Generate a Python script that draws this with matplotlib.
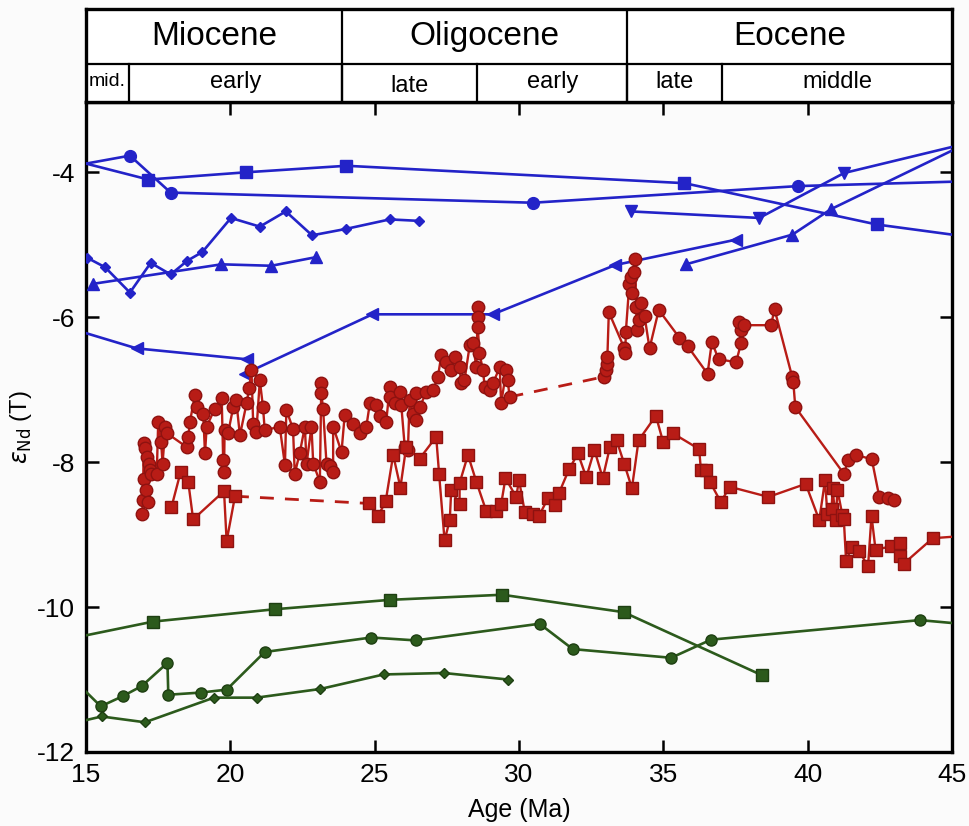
import matplotlib.pyplot as plt
import numpy as np

# --- datos: edad (Ma) y eNd(T) ---

# azul
az_circ_edad = [15.0, 16.52, 17.93, 30.48, 39.68, 45.0]
az_circ_end = [-3.88, -3.77, -4.28, -4.42, -4.19, -4.13]

az_cuad_edad = [15.0, 17.16, 20.54, 24.02, 35.73, 42.39, 45.0]
az_cuad_end = [-3.88, -4.10, -4.00, -3.91, -4.15, -4.72, -4.86]

az_diam_edad = [15.04, 15.66, 16.52, 17.24, 17.93, 18.51, 19.03, 20.02, 21.02, 21.92, 22.83, 24.02, 25.52, 26.52]
az_diam_end = [-5.18, -5.31, -5.66, -5.25, -5.41, -5.22, -5.10, -4.63, -4.75, -4.54, -4.87, -4.78, -4.65, -4.67]

az_tri_edad = [15.23, 19.69, 21.42, 22.98]
az_tri_end = [-5.54, -5.27, -5.29, -5.17]

az_izq1_edad = [15.0, 16.75, 20.56]
az_izq1_end = [-6.22, -6.43, -6.58]

az_izq2_edad = [20.5, 24.92, 29.09, 33.33, 37.51]
az_izq2_end = [-6.78, -5.96, -5.96, -5.28, -4.93]

az_abajo_edad = [33.88, 38.32, 41.26, 45.0]
az_abajo_end = [-4.54, -4.63, -4.01, -3.65]

az_arriba_edad = [35.78, 39.47, 40.80, 45.0]
az_arriba_end = [-5.27, -4.86, -4.51, -3.70]

# rojo, circulos (dos tramos unidos por linea cortada)
rc1_edad = [16.95, 16.97, 17.0, 17.02, 17.05, 17.08, 17.1, 17.13, 17.17, 17.2, 17.25,
            17.45, 17.5, 17.6, 17.65, 17.75, 17.8, 18.48, 18.54, 18.6, 18.77, 18.83,
            19.06, 19.12, 19.18, 19.46, 19.7, 19.75, 19.78, 19.8, 19.92, 20.1, 20.2,
            20.33, 20.56, 20.65, 20.73, 20.79, 20.9, 21.02, 21.13, 21.19, 21.71, 21.89,
            21.94, 22.17, 22.23, 22.40, 22.58, 22.64, 22.81, 22.87, 23.10, 23.15, 23.15,
            23.21, 23.33, 23.44, 23.56, 23.56, 23.85, 23.96, 24.25, 24.48, 24.71, 24.83,
            25.06, 25.17, 25.40, 25.52, 25.52, 25.69, 25.86, 25.92, 26.04, 26.15, 26.21,
            26.33, 26.44, 26.44, 26.56, 26.79, 27.02, 27.19, 27.31, 27.48, 27.65, 27.77,
            27.94, 28.00, 28.11, 28.29, 28.40, 28.52, 28.57, 28.57, 28.57, 28.63, 28.75,
            28.81, 28.98, 29.10, 29.33, 29.38, 29.56, 29.61, 29.67]
rc1_end = [-8.71, -8.52, -7.74, -8.23, -7.81, -8.39, -7.93, -8.55, -8.02, -8.11, -8.16,
           -8.16, -7.44, -7.72, -8.02, -7.51, -7.60, -7.79, -7.65, -7.44, -7.08, -7.24,
           -7.33, -7.88, -7.51, -7.26, -7.12, -7.97, -8.13, -7.56, -7.60, -7.24, -7.14,
           -7.63, -7.19, -6.98, -6.73, -7.47, -7.58, -6.87, -7.24, -7.56, -7.51, -8.04,
           -7.28, -7.54, -8.16, -7.88, -7.51, -8.02, -7.51, -8.02, -8.27, -6.91, -7.05,
           -7.26, -8.02, -8.06, -8.13, -7.51, -7.86, -7.35, -7.47, -7.60, -7.51, -7.19,
           -7.21, -7.37, -7.44, -6.96, -7.10, -7.19, -7.03, -7.21, -7.79, -7.83, -7.14,
           -7.33, -7.05, -7.42, -7.24, -7.03, -7.01, -6.82, -6.52, -6.62, -6.73, -6.55,
           -6.69, -6.91, -6.87, -6.39, -6.36, -6.69, -5.86, -6.00, -6.13, -6.50, -6.73,
           -6.96, -7.01, -6.91, -6.69, -7.19, -6.73, -6.87, -7.10]

rc2_edad = [32.96, 33.0, 33.03, 33.06, 33.11, 33.65, 33.68, 33.70, 33.82, 33.87, 33.92,
            33.97, 34.03, 34.05, 34.10, 34.15, 34.23, 34.35, 34.52, 34.84, 35.55, 35.84,
            36.53, 36.68, 36.91, 37.52, 37.69, 37.69, 37.63, 37.80, 38.73, 38.85, 39.46,
            39.50, 39.57, 41.27, 41.38, 41.67, 42.22, 42.48, 42.77, 43.0]
rc2_end = [-6.82, -6.73, -6.64, -6.55, -5.93, -6.43, -6.50, -6.20, -5.54, -5.44, -5.67,
           -5.37, -5.20, -5.86, -6.18, -6.04, -5.81, -5.99, -6.43, -5.90, -6.28, -6.40,
           -6.78, -6.34, -6.58, -6.62, -6.36, -6.18, -6.06, -6.11, -6.11, -5.89, -6.82,
           -6.89, -7.24, -8.17, -7.97, -7.90, -7.96, -8.48, -8.50, -8.52]

# rojo, cuadrados
rq1_edad = [17.96, 18.28, 18.54, 18.71, 19.78, 19.87, 20.16]
rq1_end = [-8.62, -8.13, -8.27, -8.79, -8.40, -9.09, -8.47]

rq2_edad = [24.80, 25.11, 25.38, 25.64, 25.89, 26.09, 26.56, 27.13, 27.23, 27.42, 27.60,
            27.65, 27.94, 27.94, 28.23, 28.52, 28.86, 29.21, 29.38, 29.53, 29.90, 30.0,
            30.2, 30.48, 30.68, 31.0, 31.23, 31.38, 31.73, 32.04, 32.33, 32.61, 32.90,
            33.15, 33.38, 33.65, 33.91, 34.14, 34.74, 34.99, 35.32, 36.24, 36.30, 36.49,
            36.61, 36.99, 37.30, 38.64, 39.93, 40.40, 40.60, 40.68, 40.83, 40.86, 40.97,
            41.03, 41.20, 41.25, 41.33, 41.52, 41.79, 42.09, 42.21, 42.35, 42.90, 43.18,
            43.21, 43.33, 44.33, 45.0]
rq2_end = [-8.57, -8.75, -8.54, -7.90, -8.35, -7.79, -7.95, -7.65, -8.16, -9.08, -8.80,
           -8.39, -8.58, -8.29, -7.90, -8.27, -8.67, -8.67, -8.58, -8.22, -8.48, -8.25,
           -8.69, -8.71, -8.75, -8.50, -8.59, -8.43, -8.10, -7.88, -8.21, -7.83, -8.22,
           -7.79, -7.70, -8.03, -8.36, -7.70, -7.36, -7.72, -7.60, -7.82, -8.11, -8.11,
           -8.27, -8.55, -8.34, -8.48, -8.30, -8.80, -8.25, -8.71, -8.64, -8.36, -8.80,
           -8.38, -8.73, -8.78, -9.37, -9.17, -9.23, -9.44, -8.74, -9.21, -9.16, -9.11,
           -9.30, -9.40, -9.05, -9.03]

# verde
vq_edad = [15.0, 17.33, 21.54, 25.54, 29.42, 33.62, 38.41]
vq_end = [-10.39, -10.20, -10.03, -9.90, -9.83, -10.07, -10.94]

vc_edad = [15.0, 15.51, 16.27, 16.93, 17.82, 17.85, 18.97, 19.87, 21.19, 24.88, 26.42,
           30.71, 31.86, 35.27, 36.65, 43.88, 45.0]
vc_end = [-11.17, -11.37, -11.23, -11.09, -10.77, -11.21, -11.18, -11.14, -10.62, -10.42,
          -10.46, -10.23, -10.58, -10.70, -10.45, -10.18, -10.22]

vd_edad = [15.0, 15.54, 17.04, 19.43, 20.91, 23.12, 25.31, 27.40, 29.62]
vd_end = [-11.56, -11.51, -11.59, -11.25, -11.25, -11.13, -10.93, -10.91, -11.00]

# escala de tiempo
epocas = ['Miocene', 'Oligocene', 'Eocene']
epocas_lim = [15, 23.86, 33.75, 45]
subepocas = ['mid.', 'early', 'late', 'early', 'late', 'middle']
subepocas_lim = [15, 16.49, 23.86, 28.56, 33.75, 37.04, 45]

AZUL = '#2323c8'
ROJO = '#b81c16'
ROJO_BORDE = '#8e1210'
VERDE = '#2c5a1c'
VERDE_BORDE = '#1e3f12'

plt.rcParams['font.family'] = ['Liberation Sans', 'DejaVu Sans']
plt.rcParams['axes.unicode_minus'] = False


def serie(ax, edad, end, color, marker, ms, borde=(False, False), mec=None, lw=1.9):
    # los puntos en el borde del grafico no llevan marca
    n = len(edad)
    idx = [i for i in range(n) if not (borde[0] and i == 0) and not (borde[1] and i == n - 1)]
    ax.plot(edad, end, '-', color=color, lw=lw, marker=marker, ms=ms, markevery=idx,
            mfc=color, mec=mec if mec else color, mew=1.0, zorder=3)


def tramo_cortado(ax, edad1, end1, edad2, end2, color):
    ax.plot([edad1[-1], edad2[0]], [end1[-1], end2[0]], color=color, lw=2.0,
            dashes=(5, 4), zorder=2)


def main():
    fig = plt.figure(figsize=(9.69, 8.26), dpi=100, facecolor='#fbfbfb')
    ax = fig.add_axes([0.0888, 0.0896, 0.8937, 0.7869], facecolor='#fbfbfb')

    # azul
    serie(ax, az_circ_edad, az_circ_end, AZUL, 'o', 8.5, borde=(True, True))
    serie(ax, az_cuad_edad, az_cuad_end, AZUL, 's', 8.5, borde=(True, True))
    serie(ax, az_diam_edad, az_diam_end, AZUL, 'D', 5)
    serie(ax, az_tri_edad, az_tri_end, AZUL, '^', 8)
    serie(ax, az_izq1_edad, az_izq1_end, AZUL, '<', 8.5, borde=(True, False))
    serie(ax, az_izq2_edad, az_izq2_end, AZUL, '<', 8.5)
    serie(ax, az_abajo_edad, az_abajo_end, AZUL, 'v', 8, borde=(False, True))
    serie(ax, az_arriba_edad, az_arriba_end, AZUL, '^', 8.5, borde=(False, True))

    # rojo
    serie(ax, rc1_edad, rc1_end, ROJO, 'o', 9, mec=ROJO_BORDE, lw=1.7)
    serie(ax, rc2_edad, rc2_end, ROJO, 'o', 9, mec=ROJO_BORDE, lw=1.7)
    tramo_cortado(ax, rc1_edad, rc1_end, rc2_edad, rc2_end, ROJO)
    serie(ax, rq1_edad, rq1_end, ROJO, 's', 8.5, mec=ROJO_BORDE, lw=1.7)
    serie(ax, rq2_edad, rq2_end, ROJO, 's', 8.5, borde=(False, True), mec=ROJO_BORDE, lw=1.7)
    tramo_cortado(ax, rq1_edad, rq1_end, rq2_edad, rq2_end, ROJO)

    # verde
    serie(ax, vq_edad, vq_end, VERDE, 's', 8.5, borde=(True, False), mec=VERDE_BORDE)
    serie(ax, vc_edad, vc_end, VERDE, 'o', 8, borde=(True, True), mec=VERDE_BORDE)
    serie(ax, vd_edad, vd_end, VERDE, 'D', 5, borde=(True, False), mec=VERDE_BORDE)

    ax.set_xlim(15, 45)
    ax.set_ylim(-12, -3.03)
    ax.set_xticks(np.arange(15, 46, 5))
    ax.set_yticks(np.arange(-12, -3, 2))
    ax.tick_params(direction='in', length=9, width=1.8, top=True, right=True,
                   labelsize=19, pad=8)
    for s in ax.spines.values():
        s.set_linewidth(2.4)
    ax.set_xlabel('Age (Ma)', fontsize=18, labelpad=8)
    ax.set_ylabel(r'$\varepsilon_{\mathrm{Nd}}$ (T)', fontsize=17, labelpad=2)

    # cabecera con la escala geologica
    axh = fig.add_axes([0.0888, 0.8765, 0.8937, 0.1126], facecolor='white')
    axh.set_xlim(15, 45)
    axh.set_ylim(0, 1)
    axh.set_xticks([])
    axh.set_yticks([])
    for s in axh.spines.values():
        s.set_linewidth(2.4)
    axh.axhline(0.409, color='black', lw=1.6)
    for x in epocas_lim[1:-1]:
        axh.axvline(x, color='black', lw=1.6)
    for x in subepocas_lim[1:-1]:
        axh.plot([x, x], [0, 0.409], color='black', lw=1.6)
    for i, nombre in enumerate(epocas):
        xm = (epocas_lim[i] + epocas_lim[i + 1]) / 2
        axh.text(xm, 0.70, nombre, ha='center', va='center', fontsize=24)
    for i, nombre in enumerate(subepocas):
        xm = (subepocas_lim[i] + subepocas_lim[i + 1]) / 2
        tam = 14 if nombre == 'mid.' else 17
        yt = 0.17 if i == 2 else 0.22
        axh.text(xm, yt, nombre, ha='center', va='center', fontsize=tam)

    fig.savefig('out.png', dpi=100, facecolor=fig.get_facecolor())


if __name__ == "__main__":
    main()
